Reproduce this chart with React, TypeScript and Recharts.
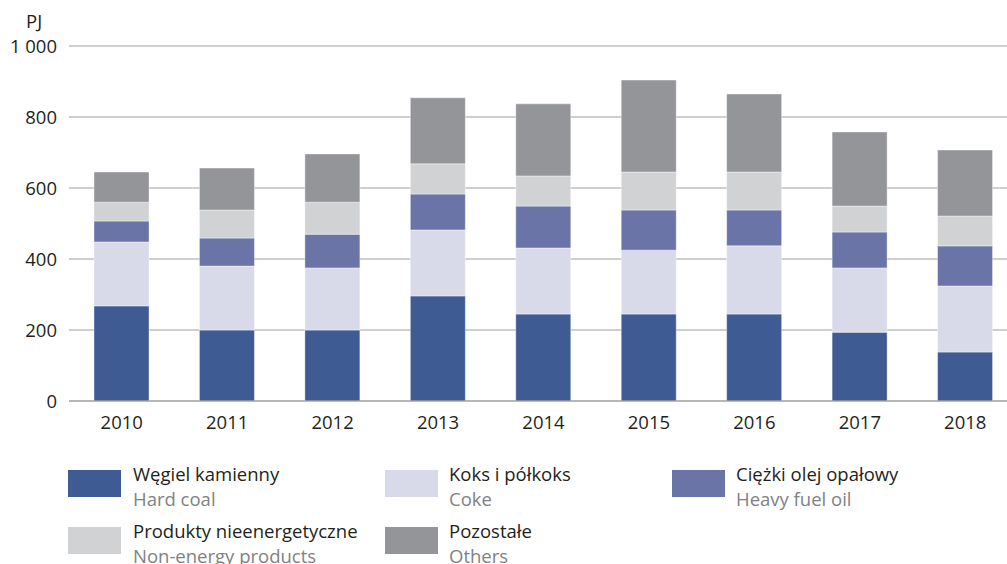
import React from "react";
import { BarChart, Bar, XAxis, YAxis, CartesianGrid } from "recharts";

const years = ["2010", "2011", "2012", "2013", "2014", "2015", "2016", "2017", "2018"];
const hardCoal = [268, 200, 200, 296, 245, 245, 245, 194, 138];
const coke = [180, 180, 175, 186, 186, 180, 192, 181, 186];
const heavyFuelOil = [59, 79, 95, 101, 118, 113, 101, 101, 113];
const nonEnergy = [53, 79, 90, 85, 85, 107, 107, 73, 84];
const others = [85, 118, 136, 186, 203, 259, 220, 209, 186];
const yTicks = [0, 200, 400, 600, 800, 1000];
const unitLabel = "PJ";

const seriesKeys = ["hardCoal", "coke", "heavyFuelOil", "nonEnergy", "others"];
const seriesColors = ["#3e5b94", "#d8dae9", "#6a74a6", "#d1d2d4", "#949599"];
const legendPl = ["Węgiel kamienny", "Koks i półkoks", "Ciężki olej opałowy", "Produkty nieenergetyczne", "Pozostałe"];
const legendEn = ["Hard coal", "Coke", "Heavy fuel oil", "Non-energy products", "Others"];

const data = years.map((y, i) => ({
  year: y,
  hardCoal: hardCoal[i],
  coke: coke[i],
  heavyFuelOil: heavyFuelOil[i],
  nonEnergy: nonEnergy[i],
  others: others[i],
}));

const FONT = "'Open Sans', sans-serif";
const fmt = (v: number) => (v >= 1000 ? v.toString().replace(/\B(?=(\d{3})+(?!\d))/g, " ") : String(v));

const legendSwatchX = [68, 385, 672];
const legendTextX = [133, 449, 736];
const legendRowY = [470, 527];

export default function App() {
  return (
    <div
      style={{
        position: "absolute",
        left: 0,
        top: 0,
        width: 1007,
        height: 564,
        overflow: "hidden",
        background: "#fff",
        fontFamily: FONT,
      }}
    >
      <div style={{ position: "absolute", left: 26, top: 9, fontSize: 18.5, lineHeight: "24px", color: "#231f20" }}>
        {unitLabel}
      </div>
      <div style={{ position: "absolute", left: 0, top: 0 }}>
        <BarChart width={1020} height={440} data={data} margin={{ top: 46, right: 2, bottom: 9, left: 0 }} barSize={55}>
          <CartesianGrid horizontal vertical={false} stroke="#a0a0a0" strokeWidth={1.2} />
          <XAxis
            dataKey="year"
            height={30}
            tickLine={false}
            tickSize={0}
            tickMargin={15}
            axisLine={{ stroke: "#a0a0a0", strokeWidth: 1.2 }}
            tick={{ fontSize: 18.5, fill: "#231f20", fontFamily: FONT }}
            interval={0}
          />
          <YAxis
            width={69}
            domain={[0, 1000]}
            ticks={yTicks}
            tickFormatter={fmt}
            axisLine={false}
            tickLine={false}
            tickSize={0}
            tickMargin={12}
            tick={{ fontSize: 18.5, fill: "#231f20", fontFamily: FONT }}
          />
          {seriesKeys.map((k, i) => (
            <Bar
              key={k}
              dataKey={k}
              stackId="a"
              fill={seriesColors[i]}
              stroke="#ffffff"
              strokeOpacity={0.5}
              strokeWidth={0.8}
              isAnimationActive={false}
            />
          ))}
        </BarChart>
      </div>
      {legendPl.map((name, i) => {
        const col = i % 3;
        const row = Math.floor(i / 3);
        return (
          <React.Fragment key={name}>
            <div
              style={{
                position: "absolute",
                left: legendSwatchX[col],
                top: legendRowY[row],
                width: 53,
                height: 27,
                background: seriesColors[i],
              }}
            />
            <div
              style={{
                position: "absolute",
                left: legendTextX[col],
                top: legendRowY[row] - 9.5,
                fontSize: 18.5,
                lineHeight: "25px",
                whiteSpace: "nowrap",
              }}
            >
              <div style={{ color: "#231f20" }}>{name}</div>
              <div style={{ color: "#808285" }}>{legendEn[i]}</div>
            </div>
          </React.Fragment>
        );
      })}
    </div>
  );
}
